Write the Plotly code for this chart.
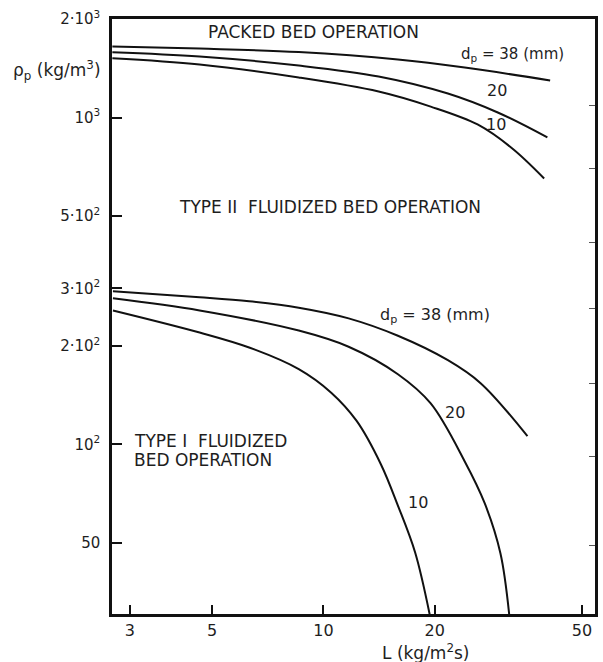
import plotly.graph_objects as go

# Liquid flux L (kg/m^2 s) and particle density rho_p (kg/m^3) along each boundary
# Packed bed / Type II fluidized bed boundary
packed_38_L = [2.69, 4.63, 8.58, 15.9, 24.1, 41.0]
packed_38_rho = [1650, 1625, 1586, 1505, 1422, 1298]
packed_20_L = [2.69, 4.63, 8.58, 14.1, 21.7, 29.6, 40.3]
packed_20_rho = [1584, 1537, 1442, 1335, 1184, 1036, 869]
packed_10_L = [2.69, 4.63, 8.58, 14.1, 19.5, 26.1, 32.4, 39.5]
packed_10_rho = [1518, 1453, 1326, 1201, 1080, 952, 804, 651]

# Type II / Type I fluidized bed boundary
fluid_38_L = [2.70, 4.63, 6.30, 8.58, 11.7, 15.9, 21.7, 26.6, 35.6]
fluid_38_rho = [294, 282, 274, 262, 243, 215, 181, 154, 106]
fluid_20_L = [2.70, 4.63, 8.58, 11.7, 15.9, 19.5, 24.1, 27.3, 30.1, 31.8]
fluid_20_rho = [280, 257, 223, 199, 164, 133.5, 88.7, 66.0, 46.4, 30]
fluid_10_L = [2.70, 4.63, 6.30, 8.58, 10.5, 12.3, 14.3, 15.9, 17.7, 19.4]
fluid_10_rho = [257, 220, 198, 170, 144, 118, 87, 65, 46.7, 30]

x_ticks = [3, 5, 10, 20, 50]
x_tick_text = ["3", "5", "10", "20", "50"]
y_ticks = [50, 100, 200, 300, 500, 1000, 2000]
y_tick_text = ["50", "10<sup>2</sup>", "2·10<sup>2</sup>", "3·10<sup>2</sup>",
               "5·10<sup>2</sup>", "10<sup>3</sup>", "2·10<sup>3</sup>"]
right_ticks = [49, 92, 154, 260, 415, 700, 1090]

FONT = "DejaVu Sans"
INK = "#1e1e1e"

fig = go.Figure()
line_style = dict(color="#111111", width=2)
for xs, ys in [(packed_38_L, packed_38_rho), (packed_20_L, packed_20_rho),
               (packed_10_L, packed_10_rho), (fluid_38_L, fluid_38_rho),
               (fluid_20_L, fluid_20_rho), (fluid_10_L, fluid_10_rho)]:
    fig.add_trace(go.Scatter(x=xs, y=ys, mode="lines",
                             line=dict(shape="spline", smoothing=1.0, **line_style),
                             showlegend=False, hoverinfo="skip"))

# invisible trace to carry the right-hand tick marks
fig.add_trace(go.Scatter(x=[None], y=[None], yaxis="y2", showlegend=False, hoverinfo="skip"))


def note(text, x, y, size=16, xanchor="center"):
    fig.add_annotation(text=text, x=x, y=y, xref="paper", yref="paper", showarrow=False,
                       xanchor=xanchor, yanchor="middle", align="left",
                       font=dict(family=FONT, size=size, color=INK))


note("PACKED BED OPERATION", 0.4177, 0.978, size=17)
note("d<sub>p</sub> = 38 (mm)", 0.829, 0.9395, size=15)
note("20", 0.798, 0.879)
note("10", 0.794, 0.8235)
note("TYPE II  FLUIDIZED BED OPERATION", 0.4506, 0.684, size=17)
note("d<sub>p</sub> = 38 (mm)", 0.669, 0.5025, size=16)
note("20", 0.710, 0.338)
note("10", 0.634, 0.1866)
note("TYPE I  FLUIDIZED", 0.041, 0.290, size=17, xanchor="left")
note("BED OPERATION", 0.041, 0.259, size=17, xanchor="left")
note("ρ<sub>p</sub> (kg/m<sup>3</sup>)", -0.113, 0.914, size=17)
note("L (kg/m<sup>2</sup>s)", 0.650, -0.064, size=17)

fig.update_layout(
    width=603, height=662,
    margin=dict(l=112, r=5, t=19, b=48),
    paper_bgcolor="white", plot_bgcolor="white",
    font=dict(family=FONT, size=15, color=INK),
    xaxis=dict(type="log", range=[0.4288, 1.734], tickvals=x_ticks, ticktext=x_tick_text,
               ticks="inside", ticklen=9, tickwidth=1.5, tickcolor="#111",
               showgrid=False, zeroline=False, showline=True, linecolor="#111",
               linewidth=2.5, mirror=True, tickfont=dict(size=16)),
    yaxis=dict(type="log", range=[1.4814, 3.3013], tickvals=y_ticks, ticktext=y_tick_text,
               ticks="inside", ticklen=10, tickwidth=1.5, tickcolor="#111",
               showgrid=False, zeroline=False, showline=True, linecolor="#111",
               linewidth=2.5, mirror=True, tickfont=dict(size=15), ticklabelstandoff=6),
    yaxis2=dict(type="log", range=[1.4814, 3.3013], overlaying="y", side="right",
                tickvals=right_ticks, showticklabels=False, ticks="inside", ticklen=6,
                tickwidth=1, tickcolor="#555", showgrid=False, zeroline=False, showline=False),
)

fig.write_html("out.html")
